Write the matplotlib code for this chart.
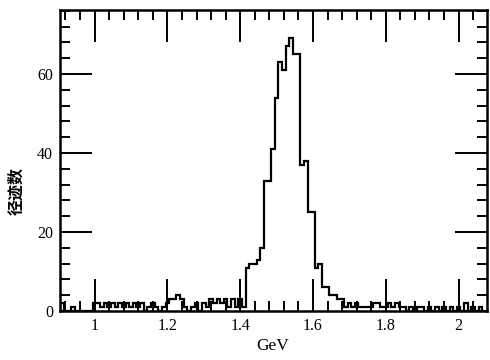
import numpy as np
import matplotlib
matplotlib.use("Agg")
import matplotlib.pyplot as plt
from matplotlib.ticker import MultipleLocator

# histogram: 0.01 GeV bins starting at 0.905 GeV
bin_start = 0.905
bin_width = 0.01
counts = [
    2, 0, 0, 1, 0, 0, 0, 0, 0,            # 0.91 - 0.99
    2, 2, 1, 2, 1, 2, 1, 2, 1, 2,         # 1.00 - 1.09
    1, 2, 1, 2, 0, 1, 2, 1, 0, 1,         # 1.10 - 1.19
    2, 3, 3, 4, 3, 1, 0, 1, 2, 0,         # 1.20 - 1.29
    2, 1, 3, 2, 3, 2, 3, 1, 3, 1,         # 1.30 - 1.39
    3, 1, 11, 12, 12, 13, 16, 33, 33, 41, # 1.40 - 1.49
    54, 63, 61, 67, 69, 65, 65, 37, 38, 25,  # 1.50 - 1.59
    25, 11, 12, 6, 6, 4, 4, 3, 3, 1,      # 1.60 - 1.69
    2, 1, 2, 1, 1, 1, 1, 2, 2, 1,         # 1.70 - 1.79
    1, 2, 1, 2, 1, 1, 0, 1, 0, 1,         # 1.80 - 1.89
    1, 0, 1, 0, 1, 0, 1, 0, 1, 0,         # 1.90 - 1.99
    1, 0, 2, 0, 1, 0, 1, 0,               # 2.00 - 2.07
]
xticks = [1, 1.2, 1.4, 1.6, 1.8, 2]
xtick_labels = ["1", "1.2", "1.4", "1.6", "1.8", "2"]
yticks = [0, 20, 40, 60]

edges = bin_start + bin_width * np.arange(len(counts) + 1)

fig = plt.figure(figsize=(4.9, 3.6), dpi=100)
ax = fig.add_axes([60 / 490, 1 - 311 / 360, 427 / 490, 301 / 360])

ax.stairs(counts, edges, color="black", linewidth=1.6)

ax.set_xlim(0.905, 2.078)
ax.set_ylim(0, 76.2)

ax.set_xticks(xticks)
ax.set_xticklabels(xtick_labels)
ax.xaxis.set_minor_locator(MultipleLocator(0.04))
ax.set_yticks(yticks)
ax.yaxis.set_minor_locator(MultipleLocator(4))

ax.tick_params(which="both", direction="in", top=True, right=True,
               width=1.4, colors="black")
ax.tick_params(which="major", length=23, pad=5)
ax.tick_params(which="minor", length=7)
for lab in ax.get_xticklabels() + ax.get_yticklabels():
    lab.set_fontfamily("Liberation Serif")
    lab.set_fontsize(11.5)

for s in ax.spines.values():
    s.set_linewidth(1.8)

ax.set_xlabel("GeV", fontfamily="Liberation Serif", fontsize=12.5)
ax.xaxis.set_label_coords(0.497, -0.09)
ax.set_ylabel("径迹数", fontfamily=["Noto Sans CJK SC", "DejaVu Sans"],
              fontsize=11.5, fontweight="bold")
ax.yaxis.set_label_coords(-0.083, 0.40)

fig.savefig("out.png", dpi=100)
